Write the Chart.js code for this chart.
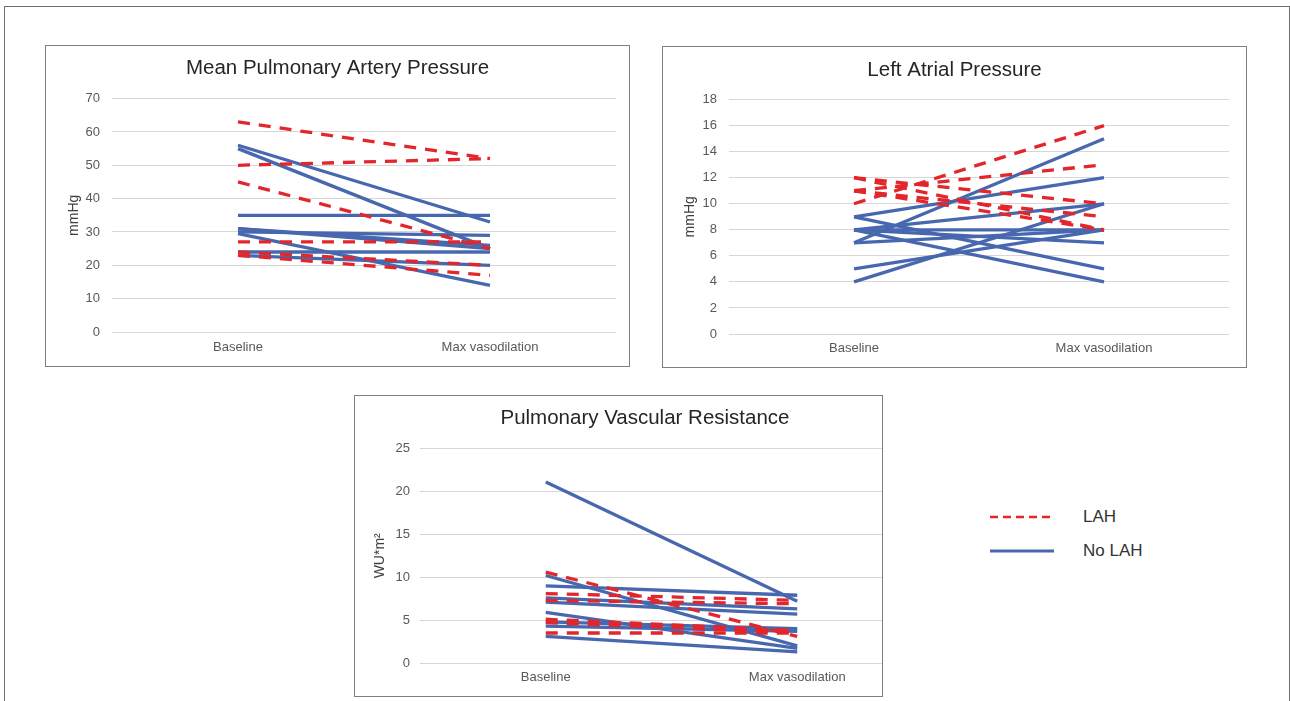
<!DOCTYPE html>
<html><head><meta charset="utf-8">
<script src="https://cdn.jsdelivr.net/npm/chart.js@4.4.0/dist/chart.umd.min.js"></script>
<style>
html,body{margin:0;padding:0;background:#fff;width:1290px;height:701px;overflow:hidden;font-family:"Liberation Sans",Arial,sans-serif;}
#frame{position:absolute;left:4px;top:6px;width:1286px;height:760px;border:1px solid #6e6e6e;box-sizing:border-box;}
.panel{position:absolute;border:1px solid #7f7f7f;box-sizing:border-box;overflow:hidden;background:#fff;}
.panel canvas{position:absolute;left:0;top:0;}
.leg{position:absolute;font-size:17px;color:#333;line-height:20px;}
</style></head>
<body>
<div id="frame"></div>
<div class="panel" style="left:45px;top:45px;width:585px;height:322px;"><canvas id="c1" width="583" height="320"></canvas></div>
<div class="panel" style="left:662px;top:46px;width:585px;height:322px;"><canvas id="c2" width="583" height="320"></canvas></div>
<div class="panel" style="left:354px;top:395px;width:529px;height:302px;"><canvas id="c3" width="580" height="300"></canvas></div>
<svg style="position:absolute;left:985px;top:500px;" width="80" height="70">
  <line x1="5" y1="17" x2="68" y2="17" stroke="#E2262B" stroke-width="2.5" stroke-dasharray="8,5"/>
  <line x1="5" y1="51" x2="69" y2="51" stroke="#4768AE" stroke-width="3"/>
</svg>
<div class="leg" style="left:1083px;top:507px;">LAH</div>
<div class="leg" style="left:1083px;top:541px;">No LAH</div>
<script>
const categories = ['Baseline', 'Max vasodilation'];

// Mean Pulmonary Artery Pressure (mmHg): [Baseline, Max vasodilation]
const mpapLAH   = [[63,52],[50,52],[45,25],[27,27],[24,20],[23,17]];
const mpapNoLAH = [[56,33],[55,25],[35,35],[31,26],[31,25],[30,29],[29.5,14],[24,24],[23,20]];

// Left Atrial Pressure (mmHg)
const lapLAH   = [[10,16],[11,13],[12,10],[11,9],[12,8],[11,8]];
const lapNoLAH = [[7,15],[9,12],[8,10],[4,10],[5,8],[7,8],[8,8],[8,7],[9,5],[8,4]];

// Pulmonary Vascular Resistance (WU*m²)
const pvrLAH   = [[10.6,3.1],[8.1,7.3],[7.3,6.9],[5.1,3.8],[4.7,3.6],[3.5,3.5]];
const pvrNoLAH = [[21.1,7.2],[10.2,2.0],[9.0,7.9],[7.6,6.3],[7.1,5.7],[5.9,1.7],[4.8,4.0],[4.3,3.7],[3.1,1.3]];

const RED = '#E2262B', BLUE = '#4768AE';
const FONT = '"Liberation Sans", Arial, sans-serif';

function makeDatasets(lah, nolah){
  const ds = [];
  lah.forEach(v => ds.push({label:'LAH', data:v, borderColor:RED, borderWidth:3.3, borderDash:[12,9], pointRadius:0, tension:0, fill:false, yAxisID:'y'}));
  nolah.forEach(v => ds.push({label:'No LAH', data:v, borderColor:BLUE, borderWidth:3.3, pointRadius:0, tension:0, fill:false, yAxisID:'y'}));
  return ds;
}

function opts(c){
  return {
    responsive:false, animation:false,
    layout:{padding:0},
    plugins:{
      legend:{display:false}, tooltip:{enabled:false},
      title:{display:true, text:c.title, color:'#262626', font:{family:FONT,size:20.5,weight:'normal'}, padding:{top:c.tTop,bottom:c.tBot}}
    },
    scales:{
      x:{type:'category', offset:true, grid:{display:false,drawTicks:false}, border:{display:false},
         ticks:{color:'#595959', font:{family:FONT,size:13}, padding:c.xPad, maxRotation:0, autoSkip:false},
         afterFit(s){ s.height = c.xH; }},
      y:{position:'left', min:0, max:c.max, grid:{color:'#d6d6d6', drawTicks:false, lineWidth:1}, border:{display:false},
         ticks:{stepSize:c.step, color:'#595959', font:{family:FONT,size:13}, padding:c.yPad},
         title:{display:true, text:c.yTitle, color:'#404040', font:{family:FONT,size:14}, padding:{top:c.ytPad,bottom:0}},
         afterFit(s){ s.width = c.yW; }},
      yr:{position:'right', min:0, max:c.max, grid:{display:false,drawTicks:false}, border:{display:false},
         ticks:{display:false}, afterFit(s){ s.width = c.padR; }}
    }
  };
}

new Chart(document.getElementById('c1'), {
  type:'line',
  data:{labels:categories, datasets:makeDatasets(mpapLAH, mpapNoLAH)},
  options:opts({title:'Mean Pulmonary Artery Pressure', max:70, step:10, yTitle:'mmHg',
    padR:13, tTop:10, tBot:18, xH:34, xPad:8, yW:66, yPad:12, ytPad:20})
});

new Chart(document.getElementById('c2'), {
  type:'line',
  data:{labels:categories, datasets:makeDatasets(lapLAH, lapNoLAH)},
  options:opts({title:'Left Atrial Pressure', max:18, step:2, yTitle:'mmHg',
    padR:17, tTop:11, tBot:17, xH:33, xPad:7, yW:66, yPad:12, ytPad:19})
});

new Chart(document.getElementById('c3'), {
  type:'line',
  data:{labels:categories, datasets:makeDatasets(pvrLAH, pvrNoLAH)},
  options:opts({title:'Pulmonary Vascular Resistance', max:25, step:5, yTitle:'WU*m²',
    padR:12, tTop:10, tBot:18, xH:33, xPad:7, yW:65, yPad:10, ytPad:17})
});
</script>
</body></html>
